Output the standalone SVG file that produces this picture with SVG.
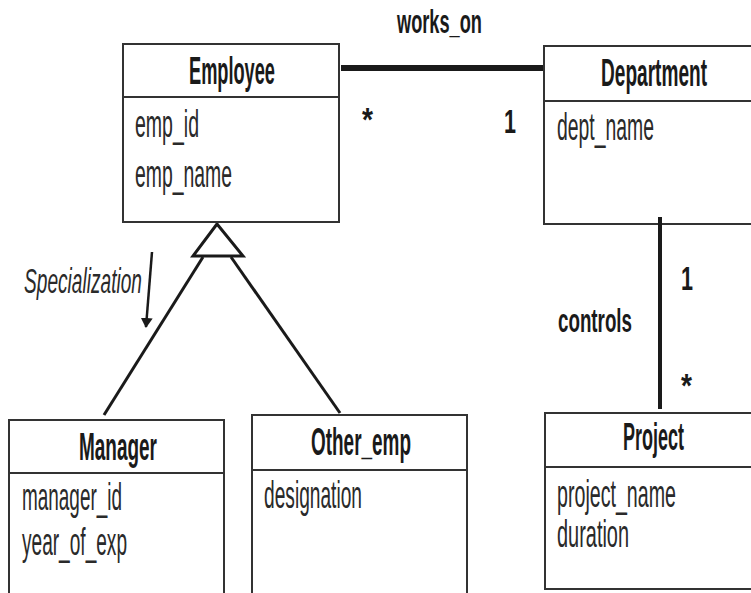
<svg xmlns="http://www.w3.org/2000/svg" width="751" height="593" viewBox="0 0 751 593">
  <style>
    .box { fill: #ffffff; stroke: #333333; stroke-width: 2; }
    .div { stroke: #333333; stroke-width: 2; }
    .title { font-family: "Liberation Sans", Arial, sans-serif; font-weight: bold; font-size: 38px; fill: #1a1a1a; }
    .attr { font-family: "Liberation Sans", Arial, sans-serif; font-size: 38px; fill: #2a2a2a; }
    .label { font-family: "Liberation Sans", Arial, sans-serif; font-weight: bold; font-size: 34px; fill: #1a1a1a; }
    .mult { font-family: "Liberation Sans", Arial, sans-serif; font-weight: bold; font-size: 34px; fill: #1a1a1a; }
    .ital { font-family: "Liberation Sans", Arial, sans-serif; font-style: italic; font-size: 35px; fill: #2a2a2a; }
    .assoc { fill: none; stroke: #1a1a1a; }
    .gen { fill: none; stroke: #1a1a1a; stroke-width: 3; }
  </style>
  <defs>
    <marker id="arrowHead" viewBox="0 0 10 20" refX="9" refY="10" markerWidth="10" markerHeight="20" markerUnits="userSpaceOnUse" orient="auto">
      <path d="M0,4 L10,10 L0,16 Z" fill="#1a1a1a"/>
    </marker>
  </defs>
  <rect width="751" height="593" fill="#ffffff"/>

  <!-- connectors -->
  <g id="connectors">
    <line class="assoc" x1="341" y1="68" x2="546" y2="68" stroke-width="6"/>
    <line class="assoc" x1="660" y1="217" x2="660" y2="409" stroke-width="4"/>
    <line class="gen" x1="203" y1="257" x2="104" y2="415"/>
    <line class="gen" x1="231" y1="257" x2="340" y2="413"/>
    <polygon class="gen" points="217,224 193,256 243,256" stroke-linejoin="miter"/>
    <line x1="152" y1="252" x2="146" y2="327" stroke="#1a1a1a" stroke-width="2.5" marker-end="url(#arrowHead)"/>
    <text class="label" x="397" y="33" textLength="85" lengthAdjust="spacingAndGlyphs">works_on</text>
    <text class="mult" x="362" y="131" textLength="11" lengthAdjust="spacingAndGlyphs">*</text>
    <text class="mult" x="504" y="133" textLength="12" lengthAdjust="spacingAndGlyphs">1</text>
    <text class="label" x="558" y="332" textLength="74" lengthAdjust="spacingAndGlyphs">controls</text>
    <text class="mult" x="681" y="290" textLength="12" lengthAdjust="spacingAndGlyphs">1</text>
    <text class="mult" x="681" y="397" textLength="11" lengthAdjust="spacingAndGlyphs">*</text>
    <text class="ital" x="24" y="293" textLength="118" lengthAdjust="spacingAndGlyphs">Specialization</text>
  </g>

  <!-- Employee -->
  <g id="employee">
    <rect class="box" x="123" y="44" width="216" height="178"/>
    <line class="div" x1="123" y1="97" x2="339" y2="97"/>
    <text class="title" x="189" y="84" textLength="86" lengthAdjust="spacingAndGlyphs">Employee</text>
    <text class="attr" x="135" y="137" textLength="64" lengthAdjust="spacingAndGlyphs">emp_id</text>
    <text class="attr" x="135" y="187" textLength="97" lengthAdjust="spacingAndGlyphs">emp_name</text>
  </g>

  <!-- Department (right side runs to the canvas edge) -->
  <g id="department">
    <rect class="box" x="544" y="46" width="208" height="178"/>
    <line class="div" x1="544" y1="101" x2="752" y2="101"/>
    <text class="title" x="601" y="86" textLength="106" lengthAdjust="spacingAndGlyphs">Department</text>
    <text class="attr" x="557" y="140" textLength="97" lengthAdjust="spacingAndGlyphs">dept_name</text>
  </g>
  <line x1="660" y1="217" x2="660" y2="240" stroke="#1a1a1a" stroke-width="4"/>

  <!-- Manager -->
  <g id="manager">
    <rect class="box" x="9" y="420" width="215" height="190"/>
    <line class="div" x1="9" y1="473" x2="224" y2="473"/>
    <text class="title" x="79" y="460" textLength="78" lengthAdjust="spacingAndGlyphs">Manager</text>
    <text class="attr" x="22" y="510" textLength="100" lengthAdjust="spacingAndGlyphs">manager_id</text>
    <text class="attr" x="22" y="555" textLength="105" lengthAdjust="spacingAndGlyphs">year_of_exp</text>
  </g>

  <!-- Other_emp -->
  <g id="other-emp">
    <rect class="box" x="252" y="415" width="215" height="195"/>
    <line class="div" x1="252" y1="470" x2="467" y2="470"/>
    <text class="title" x="311" y="455" textLength="100" lengthAdjust="spacingAndGlyphs">Other_emp</text>
    <text class="attr" x="264" y="508" textLength="98" lengthAdjust="spacingAndGlyphs">designation</text>
  </g>

  <!-- Project (right side runs to the canvas edge) -->
  <g id="project">
    <rect class="box" x="545" y="413" width="207" height="176"/>
    <line class="div" x1="545" y1="467" x2="752" y2="467"/>
    <text class="title" x="623" y="450" textLength="61" lengthAdjust="spacingAndGlyphs">Project</text>
    <text class="attr" x="557" y="507" textLength="119" lengthAdjust="spacingAndGlyphs">project_name</text>
    <text class="attr" x="557" y="547" textLength="72" lengthAdjust="spacingAndGlyphs">duration</text>
  </g>
</svg>
